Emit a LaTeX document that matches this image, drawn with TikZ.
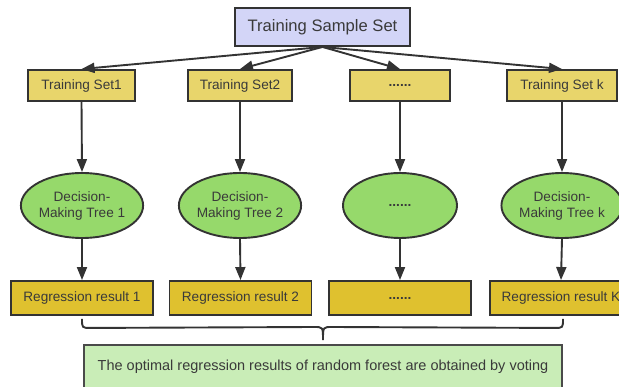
\documentclass[tikz,border=0pt]{standalone}
\usepackage{fontspec}
\setmainfont{Liberation Sans}
\usetikzlibrary{shapes.geometric,arrows.meta,calc}
\definecolor{edgec}{HTML}{333333}
\definecolor{txtc}{HTML}{3A3A3A}
\definecolor{topfill}{HTML}{D3D5F7}
\definecolor{tsfill}{HTML}{E8D56B}
\definecolor{treefill}{HTML}{96D96B}
\definecolor{regfill}{HTML}{DFC12F}
\definecolor{votefill}{HTML}{C9EDB7}
\definecolor{voteedge}{HTML}{4A4A4A}
\tikzset{
  base/.style={draw=edgec, line width=1.9pt, text=txtc, inner sep=0pt, align=center,
    font=\fontsize{13.6}{16}\selectfont},
  topbox/.style={base, fill=topfill, minimum width=175pt, minimum height=38pt,
    font=\fontsize{16.6}{19}\selectfont},
  tsbox/.style={base, fill=tsfill, minimum height=31pt},
  treenode/.style={base, ellipse, fill=treefill, minimum width=114pt, minimum height=65pt},
  regbox/.style={base, fill=regfill, minimum width=142pt, minimum height=34pt},
  votebox/.style={base, draw=voteedge, fill=votefill, minimum width=478pt, minimum height=47pt},
  conn/.style={draw=edgec, line width=1.9pt, -{Triangle[length=13pt,width=10pt]}},
  bracec/.style={draw=edgec, line width=1.9pt}
}
\begin{document}
\begin{tikzpicture}[x=1pt,y=-1pt]
\useasboundingbox (0,0) rectangle (619,387);
\node[topbox] (top) at (322.5,27) {Training Sample Set};
\node[tsbox, minimum width=107pt] (ts1) at (81.5,85.5) {Training Set1};
\node[tsbox, minimum width=104pt] (ts2) at (240,85.5) {Training Set2};
\node[tsbox, minimum width=100pt] (ts3) at (400,85.5) {\textbf{......}};
\node[tsbox, minimum width=110pt] (ts4) at (562,85.5) {Training Set k};
\node[treenode] (t1) at (82,205.5) {Decision-\\Making Tree 1};
\node[treenode] (t2) at (240,205.5) {Decision-\\Making Tree 2};
\node[treenode] (t3) at (400,205.5) {\textbf{......}};
\node[treenode] (t4) at (562,205.5) {Decision-\\Making Tree k};
\node[regbox] (r1) at (82,298) {Regression result 1};
\node[regbox] (r2) at (240.5,298) {Regression result 2};
\node[regbox] (r3) at (400,298) {\textbf{......}};
\node[regbox] (r4) at (561,298) {Regression result K};
\node[votebox] (vote) at (323,368.5) {};
\node[text=txtc, font=\fontsize{14.5}{17}\selectfont, inner sep=0pt] (votetext) at (323,367) {The optimal regression results of random forest are obtained by voting};
\foreach \i in {1,2,3,4} {
  \draw[conn] (top.south) -- (ts\i.north);
  \draw[conn] (ts\i.south) -- (t\i.north);
  \draw[conn] (t\i.south) -- (r\i.north);
}
\coordinate (bl) at ($(r1.south)+(0,3)$);
\coordinate (br) at ($(r4.south)+(2,3)$);
\coordinate (btip) at (323,340);
\draw[bracec] (bl) .. controls ($(bl)+(0,9)$) .. ($(bl)+(9,9)$)
  -- ($(btip)+(-9,-13)$) .. controls ($(btip)+(0,-13)$) .. (btip)
  .. controls ($(btip)+(0,-13)$) .. ($(btip)+(9,-13)$)
  -- ($(br)+(-9,9)$) .. controls ($(br)+(0,9)$) .. (br);
\end{tikzpicture}
\end{document}
